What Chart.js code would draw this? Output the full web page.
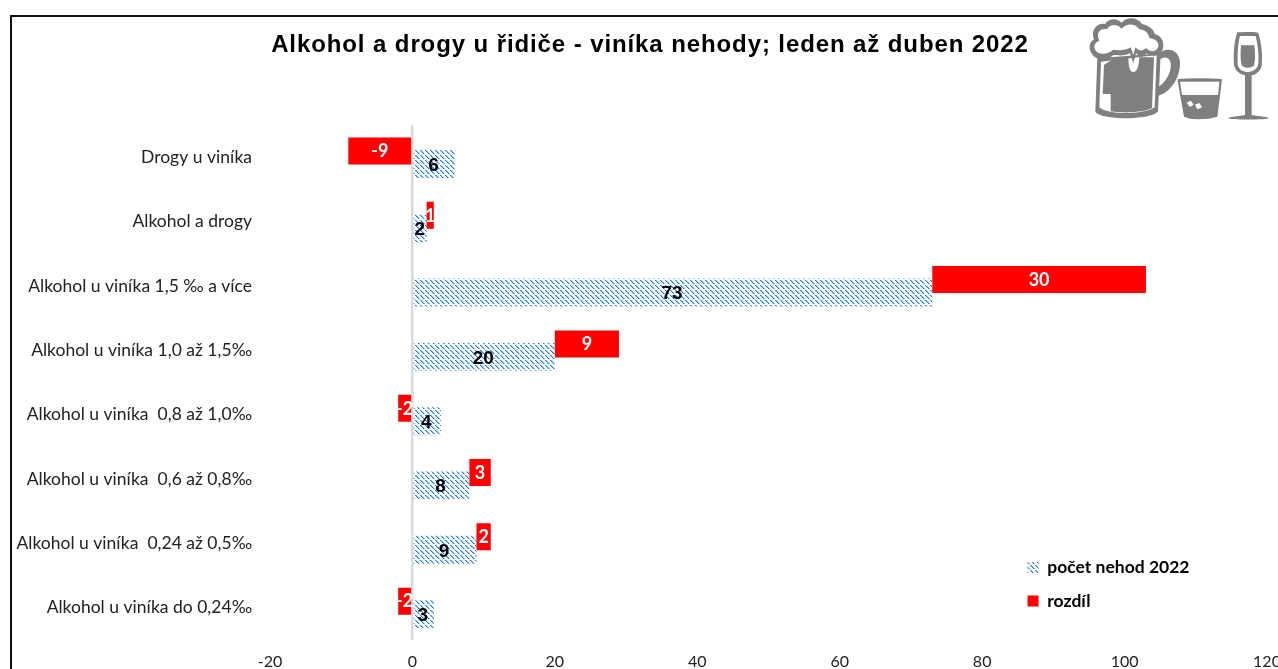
<!DOCTYPE html>
<html><head><meta charset="utf-8">
<style>
html,body{margin:0;padding:0;background:#fff;overflow:hidden;width:1278px;height:669px}
#wrap{position:relative;width:1278px;height:669px;overflow:hidden}
canvas{position:absolute;left:0;top:0}
#frame{position:absolute;left:10px;top:15px;width:2000px;height:2000px;border:2px solid #111;box-sizing:border-box}
#icons{position:absolute;left:1080px;top:0}
</style>
<script src="https://cdn.jsdelivr.net/npm/chart.js@4"></script>
</head><body>
<div id="wrap">
<div id="frame"></div>
<canvas id="c" width="1300" height="700"></canvas>
<svg id="icons" width="198" height="130" viewBox="0 0 594 390" fill="#7f7f7f">
  <!-- handle -->
  <path d="M230,165 C262,135 300,150 300,190 C300,235 270,280 232,288 L232,262 C258,250 275,215 272,190 C270,170 250,165 232,185 Z"/>
  <!-- mug -->
  <path d="M52,175 L46,335 C60,360 205,362 234,335 L242,160 Z"/>
  <path d="M63,185 L58,322 C80,345 192,345 224,322 L230,165 Z" fill="#fff"/>
  <path d="M72,195 L68,282 L92,282 L92,334 C130,340 190,338 216,324 L222,172 L178,172 C176,200 172,216 160,216 C148,216 146,200 145,172 C120,168 95,178 72,195 Z"/>
  <!-- foam -->
  <path d="M50,175 C25,160 22,130 42,118 C30,88 55,66 75,72 C90,52 112,56 125,68 C140,50 172,50 186,72 C210,78 222,90 224,102 C252,108 258,145 240,160 C225,172 208,168 200,160 C188,172 176,168 168,160 L160,190 L150,160 C130,170 110,165 100,165 C85,180 65,182 50,175 Z"/>
  <path d="M54,158 C38,148 40,128 58,122 C46,98 62,84 80,88 C92,70 112,72 125,86 C142,68 166,70 178,88 C196,90 206,100 208,114 C236,118 242,138 228,150 C216,158 206,152 198,144 C188,154 176,154 166,142 L160,165 L152,142 C134,154 112,150 98,150 C85,162 66,164 54,158 Z" fill="#fff"/>
  <!-- tumbler -->
  <path d="M292,238 C330,234 390,234 426,238 L412,350 C380,360 330,360 312,350 Z"/>
  <path d="M300,245 L418,245 L414,285 L306,285 Z" fill="#fff"/>
  <path d="M320,308 L332,302 L341,314 L330,321 Z M345,314 L358,309 L366,322 L352,328 Z" fill="#fff"/>
  <!-- wine glass -->
  <path d="M472,97 C520,95 528,96 535,99 C545,130 548,170 545,198 C540,215 528,224 515,226 L515,345 C530,348 555,350 568,354 C560,360 450,360 442,354 C460,350 480,348 495,345 L495,226 C478,222 466,212 462,195 C460,160 462,125 472,97 Z"/>
  <path d="M480,108 L527,108 C534,140 538,170 534,196 C528,210 516,216 504,216 C490,216 478,210 473,195 C472,160 474,130 480,108 Z" fill="#fff"/>
  <path d="M483,136 L523,136 C526,160 526,180 522,196 C515,206 492,206 485,196 C481,180 481,160 483,136 Z"/>
</svg>
</div>
<script>
const categories = [
  "Drogy u viníka",
  "Alkohol a drogy",
  "Alkohol u viníka 1,5 ‰ a více",
  "Alkohol u viníka 1,0 až 1,5‰",
  "Alkohol u viníka  0,8 až 1,0‰",
  "Alkohol u viníka  0,6 až 0,8‰",
  "Alkohol u viníka  0,24 až 0,5‰",
  "Alkohol u viníka do 0,24‰"
];
const pocetNehod = [6, 2, 73, 20, 4, 8, 9, 3];
const rozdil = [-9, 1, 30, 9, -2, 3, 2, -2];
const xTicks = [-20, 0, 20, 40, 60, 80, 100, 120];
const chartTitle = "Alkohol a drogy u řidiče - viníka nehody; leden až duben 2022";
const seriesNames = ["rozdíl", "počet nehod 2022"];

function hatch(){
  const n=10,t=document.createElement('canvas');t.width=n;t.height=n;
  const g=t.getContext('2d');
  g.fillStyle='#ffffff';g.fillRect(0,0,n,n);
  for(let k=0;k<2;k++) for(let i=0;i<n;i++){
    const x=(i+k*5)%n;
    g.fillStyle=(i%5===4)?'#d6e7f9':'#1f7ae0';g.fillRect(x,i,1,1);
    g.fillStyle=(i%5===4)?'#ffffff':'#9cc6f2';g.fillRect((x+1)%n,i,1,1);
  }
  return g.createPattern(t,'repeat');
}

// red segments continue from the end of the blue bar when positive, from zero when negative
const rozdilRange = rozdil.map((d,i)=> d<0 ? [0,d] : [pocetNehod[i],pocetNehod[i]+d]);

const placeLegend={id:'placeLegend',afterLayout(ch){
  const l=ch.legend; const sx=ch.scales.x;
  l.left=sx.getPixelForValue(84.13); l.right=l.left+l.width;
  l.top=ch.scales.y.getPixelForValue(6)-0.5; l.bottom=l.top+l.height;
  const tb=ch.titleBlock;
  tb.left=0;tb.right=ch.width;
  if(!tb._spaced){tb._spaced=true;const d=tb.draw.bind(tb);
    tb.draw=function(){ch.ctx.letterSpacing='0.9px';d();ch.ctx.letterSpacing='0px';};}
}};
const barLabels={id:'barLabels',afterDatasetsDraw(ch){
  const c=ch.ctx;c.save();c.textAlign='center';c.textBaseline='middle';
  ch.getDatasetMeta(0).data.forEach((b,i)=>{
    c.font='bold 18px "Lato"';c.fillStyle='#fff';
    c.fillText(String(rozdil[i]),(b.base+b.x)/2,b.y+0.5);
  });
  ch.getDatasetMeta(1).data.forEach((b,i)=>{
    c.font='bold 19px "Liberation Sans"';c.fillStyle='#000';
    const w=b.x-b.base;
    c.fillText(String(pocetNehod[i]),b.base-1+Math.max(w/2,7),b.y+1.5);
  });
  c.restore();
}};

new Chart(document.getElementById('c'),{
  type:'bar',
  data:{labels:categories,datasets:[
    {label:seriesNames[0],data:rozdilRange,backgroundColor:'#ff0000',borderWidth:0,borderSkipped:false,categoryPercentage:0.404,barPercentage:2.08},
    {label:seriesNames[1],data:pocetNehod,backgroundColor:hatch(),borderWidth:0,categoryPercentage:0.404,barPercentage:2.15}
  ]},
  options:{
    indexAxis:'y',responsive:false,animation:false,
    layout:{padding:{left:0,right:33,top:0,bottom:17}},
    plugins:{
      tooltip:{enabled:false},
      title:{display:true,text:chartTitle,color:'#000',font:{family:'"Liberation Sans"',size:24,weight:'bold',lineHeight:1.2},padding:{top:31,bottom:65.5}},
      legend:{position:'chartArea',align:'start',
        labels:{boxWidth:11,boxHeight:11,padding:16,color:'#000',font:{family:'"Lato"',size:17.5,weight:'bold'},
          sort:(a,b)=>b.datasetIndex-a.datasetIndex}}
    },
    scales:{
      x:{type:'linear',min:xTicks[0],max:xTicks[xTicks.length-1],
        afterBuildTicks(s){s.ticks=xTicks.map(v=>({value:v}));},
        border:{display:false},
        grid:{drawTicks:false,color:c=>c.tick&&c.tick.value===0?'#d9d9d9':'rgba(0,0,0,0)',lineWidth:c=>c.tick&&c.tick.value===0?2.5:0},
        ticks:{color:'#222',padding:12,maxRotation:0,autoSkip:false,font:{family:'"Lato"',size:16}}
      },
      y:{type:'category',offset:true,
        afterFit(s){s.width=270;},
        border:{display:false},
        grid:{display:false},
        ticks:{color:'#222',padding:10,autoSkip:false,font:{family:'"Lato"',size:17.5}}
      }
    }
  },
  plugins:[placeLegend,barLabels]
});
</script>
</body></html>
